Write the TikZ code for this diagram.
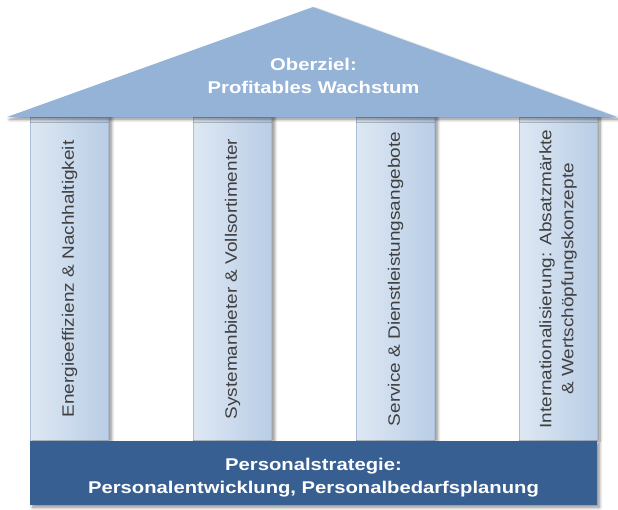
\documentclass[tikz,border=0pt]{standalone}
\usepackage{fontspec}
\setmainfont{Liberation Sans}
\newfontfamily\widebold[FakeStretch=1.19]{Liberation Sans Bold}
\newfontfamily\pillarfont[FakeStretch=1.15]{Liberation Sans}
\usetikzlibrary{shadows.blur}
\definecolor{roofblue}{HTML}{95B3D7}
\definecolor{pillarlight}{HTML}{DEE8F3}
\definecolor{pillardark}{HTML}{B9CDE6}
\definecolor{pillaredge}{HTML}{A9BDD8}
\definecolor{basedark}{HTML}{375F92}
\definecolor{pillartext}{HTML}{404040}
\tikzset{
  softshadow/.style={blur shadow={shadow xshift=2.5pt, shadow yshift=-2.5pt, shadow blur radius=3pt, shadow blur steps=8, shadow opacity=45}},
  roofshape/.style={fill=roofblue, softshadow},
  pillarbox/.style={rectangle, minimum width=78pt, minimum height=324pt, inner sep=0pt,
    left color=pillarlight, right color=pillardark, draw=pillaredge, line width=0.4pt,
    blur shadow={shadow xshift=3pt, shadow yshift=0pt, shadow blur radius=3pt, shadow blur steps=8, shadow opacity=45}},
  pillarlabel/.style={rotate=90, inner sep=0pt, align=center, text=pillartext,
    font=\pillarfont\fontsize{16.5}{22}\selectfont},
  basebox/.style={rectangle, minimum width=567pt, minimum height=64pt, inner sep=0pt,
    fill=basedark, softshadow},
  whitelabel/.style={inner sep=0pt, align=center, text=white,
    font=\widebold\fontsize{17}{22.8}\selectfont},
}
\begin{document}
\begin{tikzpicture}[x=1pt, y=-1pt]
\useasboundingbox (0,0) rectangle (618,510);
% pillars
\node[pillarbox] (p1) at (69.5,279) {};
\node[pillarbox] (p2) at (232.5,279) {};
\node[pillarbox] (p3) at (395.5,279) {};
\node[pillarbox] (p4) at (558,279) {};
\node[pillarlabel] (t1) at (p1.center) {Energieeffizienz \& Nachhaltigkeit};
\node[pillarlabel] (t2) at (p2.center) {Systemanbieter \& Vollsortimenter};
\node[pillarlabel] (t3) at (p3.center) {Service \& Dienstleistungsangebote};
\node[pillarlabel] (t4) at (p4.center) {Internationalisierung: Absatzmärkte\\\& Wertschöpfungskonzepte};
% base
\node[basebox] (base) at (313.5,473) {};
\node[whitelabel] (basetext) at (313.5,477.5) {Personalstrategie:\\Personalentwicklung, Personalbedarfsplanung};
% roof
\path[roofshape] (7,117) -- (313,7) -- (617,117) -- cycle;
\node[whitelabel] (goal) at (313.5,76) {Oberziel:\\Profitables Wachstum};
\end{tikzpicture}
\end{document}
